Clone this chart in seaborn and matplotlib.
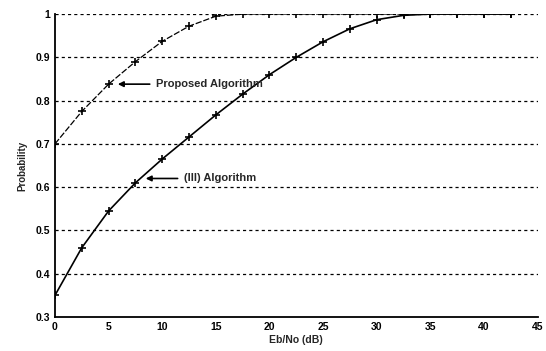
import matplotlib
matplotlib.use("Agg")
import matplotlib.pyplot as plt
import seaborn as sns
import pandas as pd

snr_db = [0, 2.5, 5, 7.5, 10, 12.5, 15, 17.5, 20, 22.5, 25, 27.5, 30, 32.5, 35, 37.5, 40, 42.5]
proposed = [0.70, 0.775, 0.838, 0.890, 0.937, 0.972, 0.995, 1.0, 1.0, 1.0, 1.0, 1.0, 1.0, 1.0, 1.0, 1.0, 1.0, 1.0]
iii_alg = [0.35, 0.46, 0.545, 0.61, 0.665, 0.716, 0.767, 0.815, 0.86, 0.90, 0.936, 0.966, 0.987, 0.997, 1.0, 1.0, 1.0, 1.0]
x_ticks = [0, 5, 10, 15, 20, 25, 30, 35, 40, 45]
y_ticks = [0.3, 0.4, 0.5, 0.6, 0.7, 0.8, 0.9, 1.0]
y_tick_labels = ["0.3", "0.4", "0.5", "0.6", "0.7", "0.8", "0.9", "1"]

sns.set_style("white")
plt.rcParams['font.family'] = ['Liberation Sans', 'DejaVu Sans']

fig = plt.figure(figsize=(5.46, 3.51), dpi=100)
ax = fig.add_axes([0.1007, 0.097, 0.884, 0.863])

df_p = pd.DataFrame({"x": snr_db, "y": proposed})
df_i = pd.DataFrame({"x": snr_db, "y": iii_alg})
sns.lineplot(data=df_p, x="x", y="y", ax=ax, color="black", lw=0.9,
             linestyle=(0, (5, 1.5)), marker="+", markersize=6,
             markeredgewidth=1.2, markeredgecolor="black")
sns.lineplot(data=df_i, x="x", y="y", ax=ax, color="black", lw=1.2,
             marker="+", markersize=6, markeredgewidth=1.2, markeredgecolor="black")

ax.set_xlim(0, 45)
ax.set_ylim(0.3, 1.0)
ax.set_xticks(x_ticks)
ax.set_yticks(y_ticks)
ax.set_yticklabels(y_tick_labels)
for y in y_ticks[1:]:
    ax.axhline(y, color="black", lw=0.9, linestyle=(0, (2.5, 2.5)), zorder=0)

for s in ["top", "right"]:
    ax.spines[s].set_visible(False)
for s in ["left", "bottom"]:
    ax.spines[s].set_color("black")
    ax.spines[s].set_linewidth(1.3)

ax.tick_params(axis="both", direction="in", length=3, width=0.8, labelsize=7.5,
               colors="black")
for lab in ax.get_xticklabels() + ax.get_yticklabels():
    lab.set_fontweight("bold")

ax.set_xlabel("Eb/No (dB)", fontsize=7.5, fontweight="bold", labelpad=2)
ax.set_ylabel("Probability", fontsize=7, fontweight="bold", labelpad=6)

ax.annotate("Proposed Algorithm", xy=(5.6, 0.838), xytext=(9.4, 0.838),
            fontsize=8, fontweight="bold", va="center",
            arrowprops=dict(arrowstyle="-|>", color="black", lw=1.2, mutation_scale=8))
ax.annotate("(III) Algorithm", xy=(8.2, 0.62), xytext=(12.0, 0.62),
            fontsize=8, fontweight="bold", va="center",
            arrowprops=dict(arrowstyle="-|>", color="black", lw=1.2, mutation_scale=8))

fig.savefig("out.png", dpi=100)
